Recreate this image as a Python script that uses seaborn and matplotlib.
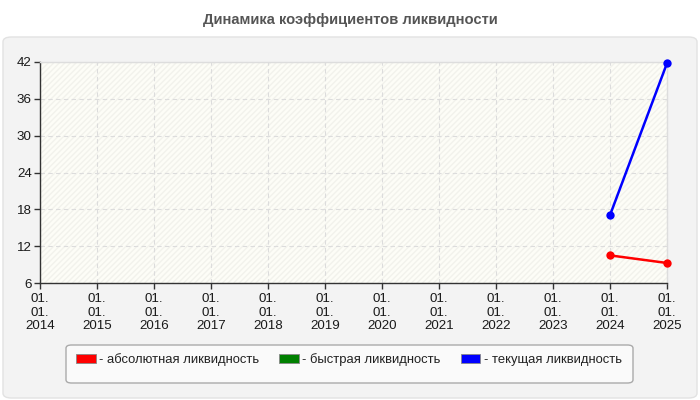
import numpy as np
import pandas as pd
import matplotlib
matplotlib.use("Agg")
import matplotlib.pyplot as plt
from matplotlib.patches import FancyBboxPatch, Rectangle, Patch
import seaborn as sns

years = [2014, 2015, 2016, 2017, 2018, 2019, 2020, 2021, 2022, 2023, 2024, 2025]
tick_labels = [f"01.\n01.\n{y}" for y in years]
series_names = ["абсолютная ликвидность", "быстрая ликвидность", "текущая ликвидность"]
series_colors = ["#ff0000", "#008000", "#0000ff"]
data_years = [2024, 2025]
absolute_vals = [10.5, 9.26]
quick_vals = [np.nan, np.nan]
current_vals = [17.05, 41.8]
y_ticks = [6, 12, 18, 24, 30, 36, 42]
title = "Динамика коэффициентов ликвидности"

sns.set_theme(style="white")
plt.rcParams["font.family"] = ["Liberation Sans", "DejaVu Sans"]

fig = plt.figure(figsize=(7, 4), dpi=100)
fig.patch.set_facecolor("white")

# outer panel
panel = FancyBboxPatch((3 / 700, 2 / 400), 694 / 700, 361 / 400,
                       boxstyle="round,pad=0,rounding_size=0.012",
                       transform=fig.transFigure, facecolor="#f3f3f3",
                       edgecolor="#e2e2e2", linewidth=1, zorder=-10)
fig.patches.append(panel)

# legend box
legbox = FancyBboxPatch((66 / 700, 1 - 383 / 400), 567 / 700, 38 / 400,
                        boxstyle="round,pad=0,rounding_size=0.008",
                        transform=fig.transFigure, facecolor="#fafafa",
                        edgecolor="#aaaaaa", linewidth=1, zorder=-5)
fig.patches.append(legbox)

fig.text(0.5, 1 - 20 / 400, title, ha="center", va="center",
         fontsize=10.6, fontweight="bold", color="#555555")

ax = fig.add_axes([40 / 700, 1 - 283 / 400, 627 / 700, 221 / 400])
ax.set_facecolor("#fdfdf7")
ax.add_patch(Rectangle((0, 0), 1, 1, transform=ax.transAxes, facecolor="none",
                       edgecolor="#f2f2ec", hatch="//////", linewidth=0, zorder=0))

rows = []
for name, vals in zip(series_names, [absolute_vals, quick_vals, current_vals]):
    for yr, v in zip(data_years, vals):
        rows.append({"year": yr, "value": v, "series": name})
df = pd.DataFrame(rows).dropna()

sns.lineplot(data=df, x="year", y="value", hue="series",
             hue_order=[series_names[0], series_names[2]],
             palette=[series_colors[0], series_colors[2]],
             marker="o", markersize=6, markeredgewidth=0, linewidth=1.8,
             legend=False, ax=ax, zorder=3)

ax.set_xlim(years[0], years[-1])
ax.set_ylim(y_ticks[0], y_ticks[-1])
ax.set_xticks(years)
ax.set_xticklabels(tick_labels, fontsize=9.6, color="#1a1a1a", linespacing=1.2)
ax.set_yticks(y_ticks)
ax.set_yticklabels([str(t) for t in y_ticks], fontsize=9.6, color="#1a1a1a")
ax.set_xlabel("")
ax.set_ylabel("")
ax.grid(True, linestyle=(0, (4, 3)), color="#dcdcdc", linewidth=0.8)
ax.tick_params(axis="both", which="both", direction="out", length=4,
               width=1, color="#333333", pad=2, left=True, bottom=True)
ax.tick_params(axis="x", pad=3)
for s in ["left", "bottom"]:
    ax.spines[s].set_color("#333333")
    ax.spines[s].set_linewidth(1)
for s in ["top", "right"]:
    ax.spines[s].set_color("#dddddd")
    ax.spines[s].set_linewidth(1)
for line in ax.lines:
    line.set_clip_on(False)

handles = [Patch(facecolor=c, edgecolor="#888888", linewidth=0.6) for c in series_colors]
labels = ["- " + n for n in series_names]
leg = fig.legend(handles, labels, loc="upper left", ncol=3,
                 bbox_to_anchor=(76 / 700, 1 - 353 / 400),
                 bbox_transform=fig.transFigure, frameon=False,
                 fontsize=9.4, handlelength=1.5, handleheight=0.75, handletextpad=0.25,
                 borderaxespad=0, borderpad=0, columnspacing=1.55)
for t in leg.get_texts():
    t.set_color("#222222")

fig.savefig("out.png", dpi=100, facecolor=fig.get_facecolor())
